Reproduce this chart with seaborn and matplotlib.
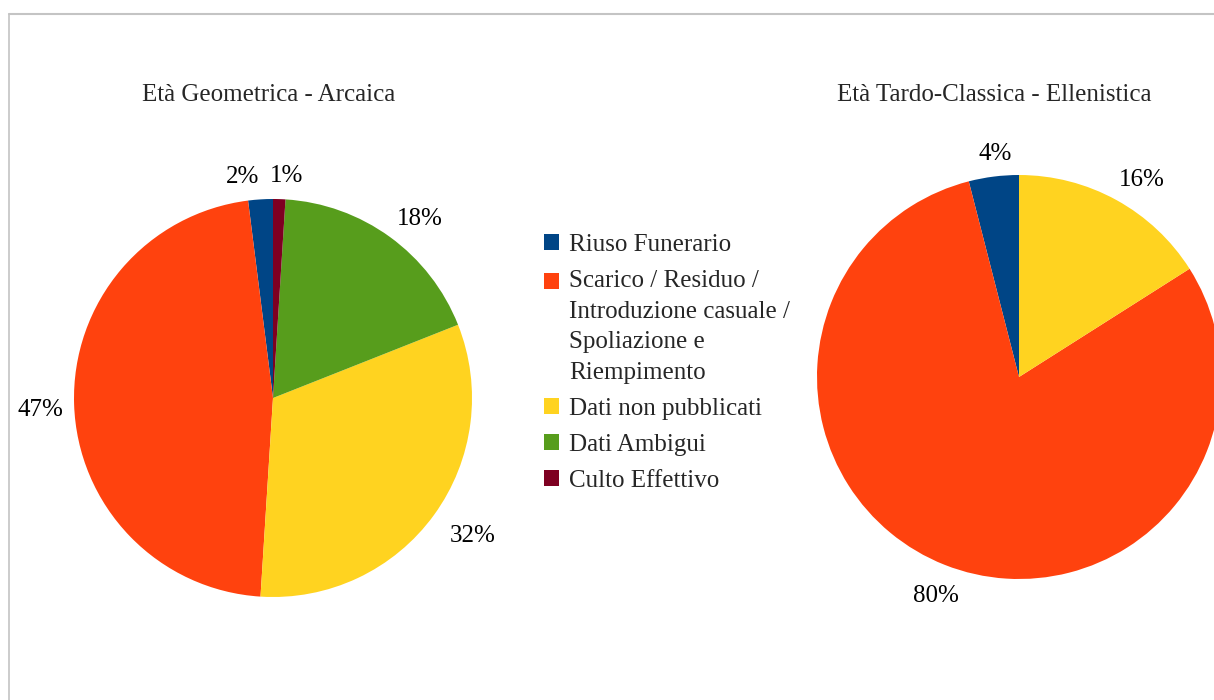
import numpy as np
import matplotlib
matplotlib.use("Agg")
import matplotlib.pyplot as plt
import seaborn as sns
from matplotlib.lines import Line2D

# Categories (legend order) and the share of each period
categories = [
    "Riuso Funerario",
    "Scarico / Residuo /\nIntroduzione casuale /\nSpoliazione e\nRiempimento",
    "Dati non pubblicati",
    "Dati Ambigui",
    "Culto Effettivo",
]
geometrica_arcaica = [2, 47, 32, 18, 1]
tardo_classica_ellenistica = [4, 80, 16, 0, 0]
period_titles = ["Età Geometrica - Arcaica", "Età Tardo-Classica - Ellenistica"]
palette_hex = ["#004586", "#ff420e", "#ffd320", "#579d1c", "#7e0021"]

sns.set_theme(style="white")
plt.rcParams["font.family"] = ["Liberation Serif", "DejaVu Serif"]
colors = sns.color_palette(palette_hex)

W, H = 1214, 700
fig = plt.figure(figsize=(W / 100, H / 100), dpi=100)
fig.patch.set_facecolor("white")

LIM = 1.45
FS = 18


def pie_axes(cx, cy, r):
    side = 2 * LIM * r
    return fig.add_axes([(cx - side / 2) / W, 1 - (cy + side / 2) / H, side / W, side / H])


def draw_pie(ax, values):
    wedges, _ = ax.pie(values, colors=colors, startangle=90, counterclock=True,
                       radius=1.0, wedgeprops=dict(linewidth=0, edgecolor="none"))
    ax.set_xlim(-LIM, LIM)
    ax.set_ylim(-LIM, LIM)
    ax.set_axis_off()
    return wedges


GAP = 0.085
NUDGE_X_PX = 6
DROP_PX = 5
LABEL_SEP_PX = 10


def add_pct_labels(ax, wedges, values, r_px):
    items = []
    for w, v in zip(wedges, values):
        if v <= 0:
            continue
        ang = np.deg2rad((w.theta1 + w.theta2) / 2)
        c, s = np.cos(ang), np.sin(ang)
        t = ax.text((1 + GAP) * c, (1 + GAP) * s, f"{v}%", ha="center", va="center",
                    fontsize=FS, color="black")
        items.append((t, c, s))
    renderer = fig.canvas.get_renderer()
    # push each label outward so its edge, not its centre, sits off the rim
    for t, c, s in items:
        bb = t.get_window_extent(renderer)
        x, y = t.get_position()
        t.set_position((x + (c * bb.width / 2 + NUDGE_X_PX) / r_px,
                        y + (s * bb.height / 2 - DROP_PX) / r_px))
    # separate neighbouring labels that collide
    n = len(items)
    for i in range(n):
        a = items[i][0]
        b = items[(i + 1) % n][0]
        if a is b:
            continue
        ba = a.get_window_extent(renderer)
        bb = b.get_window_extent(renderer)
        if ba.overlaps(bb):
            left, right = (a, b) if ba.x0 < bb.x0 else (b, a)
            bl = left.get_window_extent(renderer)
            br = right.get_window_extent(renderer)
            shift = (bl.x1 - (br.x0 - LABEL_SEP_PX)) / r_px
            x, y = left.get_position()
            left.set_position((x - shift, y))


specs = [
    (273, 398, 199, geometrica_arcaica, 269, 95),
    (1019, 377, 202, tardo_classica_ellenistica, 994, 95),
]
fig.canvas.draw()
all_wedges = []
for (cx, cy, r, vals, tx, ty), title in zip(specs, period_titles):
    ax = pie_axes(cx, cy, r)
    wedges = draw_pie(ax, vals)
    all_wedges.append(wedges)
    add_pct_labels(ax, wedges, vals, r)
    fig.text(tx / W, 1 - ty / H, title, ha="center", va="center", fontsize=FS)

leg = fig.legend(all_wedges[0], categories, loc="upper left",
                 bbox_to_anchor=(544 / W, 1 - 234 / H), frameon=False, fontsize=FS,
                 handlelength=0.6, handleheight=0.6, handletextpad=0.4,
                 labelspacing=0.55, borderpad=0, borderaxespad=0)
for t in leg.get_texts():
    t.set_linespacing(1.52)

# line the swatch of the multi-line entry up with its first line
fig.canvas.draw()
renderer = fig.canvas.get_renderer()
single_h = leg.get_texts()[0].get_window_extent(renderer).height
for handle, text in zip(leg.legend_handles, leg.get_texts()):
    if "\n" in text.get_text():
        tb = text.get_window_extent(renderer)
        hb = handle.get_window_extent(renderer)
        target = tb.y1 - single_h / 2
        delta = (target - (hb.y0 + hb.y1) / 2) * 72 / fig.dpi
        handle.set_y(handle.get_y() + delta)

# frame lines along the top and left edges
border = "#c4c4c4"
fig.add_artist(Line2D([8.5 / W, 1], [1 - 13.5 / H] * 2, transform=fig.transFigure,
                      color=border, lw=1.5))
fig.add_artist(Line2D([8.5 / W] * 2, [0, 1 - 13.5 / H], transform=fig.transFigure,
                      color=border, lw=1.2))

fig.savefig("out.png", dpi=100, facecolor="white")
